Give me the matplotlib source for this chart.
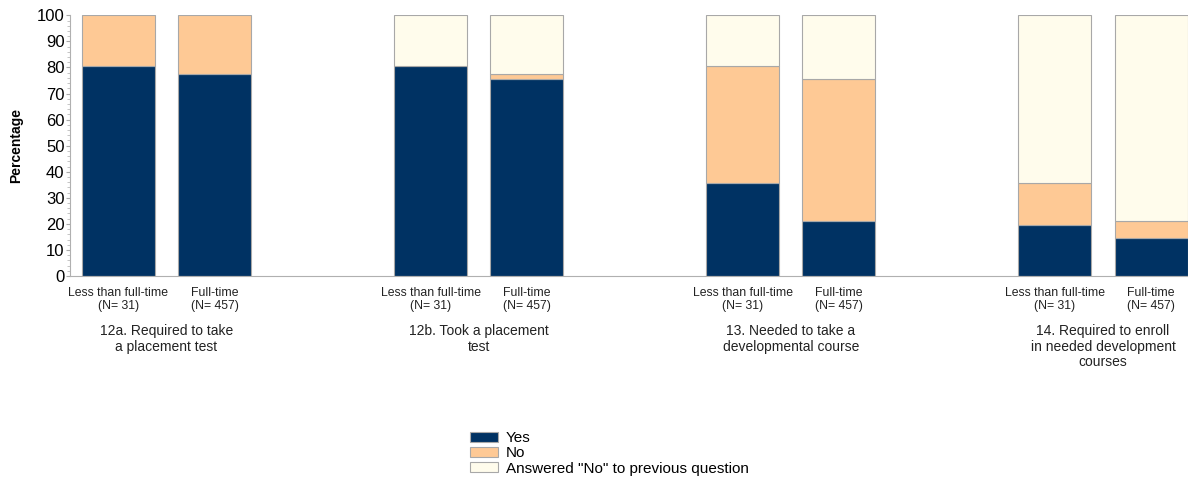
import numpy as np
import matplotlib
matplotlib.use('Agg')
import matplotlib.pyplot as plt
from matplotlib.ticker import MultipleLocator
from matplotlib.transforms import blended_transform_factory

plt.rcParams['font.family'] = ['Liberation Sans', 'DejaVu Sans']

groups = ['12a. Required to take\na placement test',
          '12b. Took a placement\ntest',
          '13. Needed to take a\ndevelopmental course',
          '14. Required to enroll\nin needed development\ncourses']
bar_labels = ['Less than full-time\n(N= 31)', 'Full-time\n(N= 457)']
series = ['Yes', 'No', 'Answered "No" to previous question']

# per group: [less than full-time, full-time]
yes = [[80.6, 77.5], [80.6, 75.5], [35.5, 21.2], [19.4, 14.7]]
no = [[19.4, 22.5], [0.0, 2.1], [45.1, 54.3], [16.1, 6.5]]
answered_no = [[0.0, 0.0], [19.4, 22.4], [19.4, 24.5], [64.5, 78.8]]

colors = ['#003263', '#fec995', '#fffcec']
edge = '#a8a8a8'

fig = plt.figure(figsize=(11.88, 4.8), dpi=100)
ax = fig.add_axes([0.0589, 0.425, 0.9411, 0.543])

group_step = 3.25
width = 0.76
xs, xlabels = [], []
for g in range(len(groups)):
    for b in range(2):
        x = g * group_step + b
        bottom = 0
        for vals, c in zip([yes, no, answered_no], colors):
            v = vals[g][b]
            if v > 0:
                ax.bar(x, v, width, bottom=bottom, color=c, edgecolor=edge,
                       linewidth=0.8)
            bottom += v
        xs.append(x)
        xlabels.append(bar_labels[b])

ax.set_xticks(xs)
ax.set_xticklabels(xlabels, fontsize=8.8, color='#222222', linespacing=1.15)
ax.tick_params(axis='x', length=0, pad=8)
ax.set_xlim(-0.505, 3 * group_step + 1 + width / 2 + 0.005)
ax.set_ylim(0, 100)
ax.yaxis.set_major_locator(MultipleLocator(10))
ax.yaxis.set_minor_locator(MultipleLocator(2))
ax.tick_params(axis='y', which='major', length=3, color='#aaaaaa',
               labelsize=12, pad=1)
ax.tick_params(axis='y', which='minor', length=2, color='#bbbbbb')
ax.set_ylabel('Percentage', fontsize=10, fontweight='bold', labelpad=10)
for s in ['top', 'right']:
    ax.spines[s].set_visible(False)
for s in ['left', 'bottom']:
    ax.spines[s].set_color('#b0b0b0')

trans = blended_transform_factory(ax.transData, fig.transFigure)
for g, name in enumerate(groups):
    ax.text(g * group_step + 0.5, 1 - 324 / 480, name, transform=trans,
            ha='center', va='top', fontsize=10, color='#222222',
            linespacing=1.15)

handles = [plt.Rectangle((0, 0), 1, 1, facecolor=c, edgecolor=edge,
                         linewidth=0.8) for c in colors]
fig.legend(handles, series, loc='upper left',
           bbox_to_anchor=(464 / 1188, 1 - 425 / 480), frameon=False,
           fontsize=11, handlelength=1.8, handleheight=0.6,
           handletextpad=0.55, labelspacing=0.08, borderaxespad=0)

fig.savefig('out.png', dpi=100)
